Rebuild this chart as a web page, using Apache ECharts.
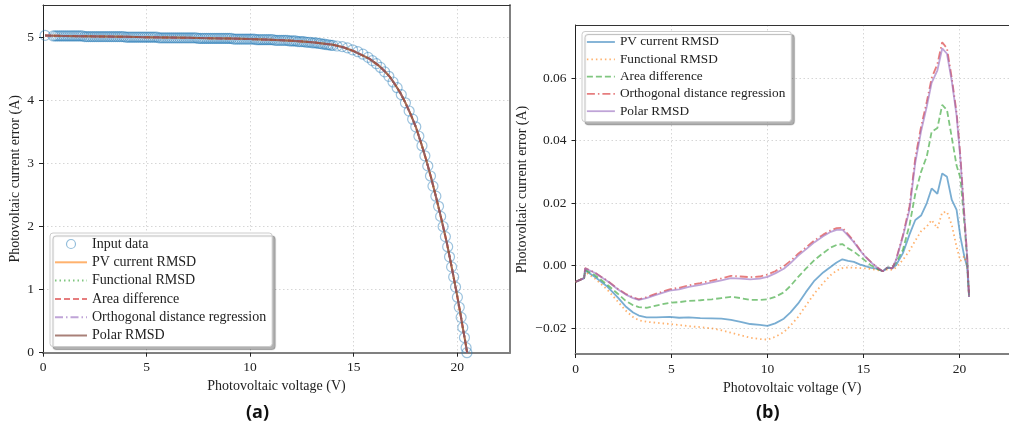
<!DOCTYPE html>
<html>
<head>
<meta charset="utf-8">
<script src="https://cdn.jsdelivr.net/npm/echarts/dist/echarts.min.js"></script>
<style>
html,body{margin:0;padding:0;background:#fff;}
#c{width:1009px;height:434px;}
</style>
</head>
<body>
<div id="c"></div>
<script>
// ---------- Panel (a): I-V curve ----------
const inputData = [
[0.1,5.03],
[0.5,5.02],[0.6,5.02],[0.7,5.02],[0.8,5.02],[0.9,5.02],[1.0,5.02],[1.1,5.02],[1.2,5.02],[1.3,5.02],[1.4,5.02],[1.5,5.02],[1.6,5.02],[1.7,5.02],[1.8,5.02],[1.9,5.02],
[2.0,5.01],[2.1,5.01],[2.2,5.01],[2.3,5.01],[2.4,5.01],[2.5,5.01],[2.6,5.01],[2.7,5.01],[2.8,5.01],[2.9,5.01],[3.0,5.01],[3.1,5.01],[3.2,5.01],[3.3,5.01],[3.4,5.01],[3.5,5.01],[3.6,5.01],[3.7,5.01],[3.8,5.01],[3.9,5.01],
[4.0,5.00],[4.1,5.00],[4.2,5.00],[4.3,5.00],[4.4,5.00],[4.5,5.00],[4.6,5.00],[4.7,5.00],[4.8,5.00],[4.9,5.00],[5.0,5.00],[5.1,5.00],[5.2,5.00],[5.3,5.00],[5.4,5.00],[5.5,5.00],
[5.6,4.99],[5.7,4.99],[5.8,4.99],[5.9,4.99],[6.0,4.99],[6.1,4.99],[6.2,4.99],[6.3,4.99],[6.4,4.99],[6.5,4.99],[6.6,4.99],[6.7,4.99],[6.8,4.99],[6.9,4.99],[7.0,4.99],[7.1,4.99],[7.2,4.99],[7.3,4.99],[7.4,4.99],
[7.5,4.98],[7.6,4.98],[7.7,4.98],[7.8,4.98],[7.9,4.98],[8.0,4.98],[8.1,4.98],[8.2,4.98],[8.3,4.98],[8.4,4.98],[8.5,4.98],[8.6,4.98],[8.7,4.98],[8.8,4.98],[8.9,4.98],[9.0,4.98],[9.1,4.98],
[9.2,4.97],[9.3,4.97],[9.4,4.97],[9.5,4.97],[9.6,4.97],[9.7,4.97],[9.8,4.97],[9.9,4.97],[10.0,4.97],[10.1,4.97],[10.2,4.97],
[10.3,4.96],[10.4,4.96],[10.5,4.96],[10.6,4.96],[10.7,4.96],[10.8,4.96],[10.9,4.96],[11.0,4.96],[11.1,4.96],
[11.2,4.95],[11.3,4.95],[11.4,4.95],[11.5,4.95],[11.6,4.95],[11.7,4.95],[11.8,4.95],
[11.9,4.94],[12.0,4.94],[12.1,4.94],[12.2,4.94],[12.3,4.93],[12.4,4.93],[12.5,4.93],[12.6,4.93],
[12.7,4.92],[12.8,4.92],[12.9,4.92],[13.0,4.91],[13.1,4.91],[13.2,4.91],[13.3,4.90],[13.4,4.90],
[13.5,4.89],[13.6,4.89],[13.7,4.88],[13.8,4.88],[13.9,4.87],[14.0,4.87],
[14.2,4.86],[14.45,4.85],[14.7,4.83],[14.95,4.80],[15.2,4.77],[15.45,4.73],[15.7,4.68],[15.9,4.63],[16.1,4.58],[16.3,4.52],
[16.5,4.45],[16.7,4.38],[16.9,4.29],[17.1,4.20],[17.3,4.09],[17.5,3.96],[17.68,3.83],[17.85,3.70],[18.0,3.58],[18.15,3.43],
[18.3,3.28],[18.44,3.12],[18.58,2.96],[18.71,2.80],[18.83,2.64],[18.97,2.48],[19.1,2.32],[19.2,2.16],[19.32,2.00],[19.43,1.84],
[19.54,1.68],[19.63,1.52],[19.73,1.36],[19.83,1.20],[19.92,1.04],[20.01,0.88],[20.1,0.72],[20.19,0.56],[20.27,0.40],[20.35,0.24],
[20.43,0.08],[20.47,0.0]
];
const fitV = [0.1,1,2,3,4,5,6,7,8,9,10,11,12,13,14,14.5,15,15.5,15.75,16,16.25,16.5,16.75,17,17.25,17.5,17.75,18,18.25,18.5,18.75,19,19.25,19.5,19.75,20,20.15,20.3,20.4,20.48];
const fitI = [5.025,5.02,5.015,5.01,5.005,5.0,4.995,4.99,4.985,4.978,4.97,4.96,4.945,4.92,4.88,4.84,4.78,4.70,4.66,4.60,4.54,4.46,4.37,4.25,4.12,3.96,3.78,3.58,3.33,3.06,2.76,2.44,2.10,1.74,1.33,0.90,0.63,0.34,0.16,0.0];

// ---------- Panel (b): current error ----------
const errV = [0,0.45,0.5,1.0,1.67,2.2,2.6,3.0,3.3,3.7,4.2,4.9,5.4,5.9,6.5,7.1,7.6,8.1,8.6,9.1,9.6,10.0,10.4,10.85,11.2,11.6,12.0,12.45,12.9,13.3,13.6,13.9,14.2,14.5,14.8,15.1,15.4,15.7,16.0,16.25,16.5,16.7,17.05,17.4,17.7,18.0,18.3,18.55,18.85,19.1,19.35,19.6,19.85,20.05,20.25,20.4,20.5];
const errPV = [-0.0052,-0.0040,-0.0016,-0.0036,-0.0068,-0.0102,-0.0130,-0.0150,-0.0160,-0.0166,-0.0166,-0.0164,-0.0167,-0.0166,-0.0168,-0.0169,-0.0170,-0.0174,-0.0180,-0.0187,-0.0190,-0.0193,-0.0185,-0.0170,-0.0150,-0.0121,-0.0085,-0.0048,-0.0022,-0.0004,0.0010,0.0020,0.0015,0.0012,0.0004,-0.0002,-0.0007,-0.0010,-0.0018,-0.0007,-0.0009,0.0002,0.0039,0.0100,0.0146,0.0160,0.0200,0.0247,0.0230,0.0295,0.0284,0.0210,0.0178,0.0092,0.0030,-0.0005,-0.0100];
const errFunc = [-0.0052,-0.0040,-0.0020,-0.0041,-0.0078,-0.0115,-0.0143,-0.0165,-0.0175,-0.0180,-0.0183,-0.0187,-0.0190,-0.0194,-0.0197,-0.0201,-0.0207,-0.0215,-0.0223,-0.0231,-0.0235,-0.0237,-0.0228,-0.0213,-0.0192,-0.0164,-0.0128,-0.0089,-0.0056,-0.0030,-0.0016,-0.0008,-0.0006,-0.0007,-0.0008,-0.0009,-0.0011,-0.0014,-0.0018,-0.0012,-0.0014,-0.0006,0.0018,0.0048,0.0080,0.0110,0.0125,0.0146,0.0119,0.0170,0.0172,0.0130,0.0060,0.0015,0.0030,0.0000,-0.0100];
const errArea = [-0.0052,-0.0040,-0.0013,-0.0030,-0.0062,-0.0090,-0.0112,-0.0127,-0.0133,-0.0135,-0.0128,-0.0119,-0.0117,-0.0113,-0.0111,-0.0108,-0.0104,-0.0100,-0.0104,-0.0110,-0.0110,-0.0108,-0.0100,-0.0086,-0.0065,-0.0036,-0.0010,0.0018,0.0040,0.0058,0.0066,0.0069,0.0055,0.0045,0.0030,0.0015,0.0000,-0.0010,-0.0018,-0.0007,-0.0005,0.0010,0.0050,0.0130,0.0230,0.0300,0.0350,0.0428,0.0440,0.0514,0.0498,0.0410,0.0320,0.0280,0.0140,0.0020,-0.0100];
const errODR = [-0.0052,-0.0040,-0.0008,-0.0022,-0.0049,-0.0074,-0.0090,-0.0102,-0.0108,-0.0101,-0.0090,-0.0076,-0.0071,-0.0063,-0.0056,-0.0048,-0.0041,-0.0033,-0.0035,-0.0037,-0.0035,-0.0029,-0.0018,-0.0002,0.0015,0.0038,0.0058,0.0081,0.0099,0.0113,0.0120,0.0121,0.0100,0.0078,0.0052,0.0029,0.0011,-0.0005,-0.0018,-0.0006,-0.0009,0.0020,0.0096,0.0190,0.0345,0.0445,0.0525,0.0600,0.0645,0.0715,0.0695,0.0600,0.0490,0.0350,0.0165,0.0032,-0.0100];
const errPolar = [-0.0052,-0.0040,-0.0009,-0.0023,-0.0050,-0.0076,-0.0092,-0.0104,-0.0110,-0.0104,-0.0094,-0.0080,-0.0076,-0.0068,-0.0062,-0.0054,-0.0047,-0.0040,-0.0042,-0.0044,-0.0042,-0.0036,-0.0025,-0.0010,0.0008,0.0032,0.0052,0.0075,0.0094,0.0108,0.0114,0.0115,0.0096,0.0075,0.0050,0.0028,0.0010,-0.0006,-0.0018,-0.0006,-0.0009,0.0018,0.0092,0.0180,0.0330,0.0430,0.0510,0.0585,0.0625,0.0695,0.0678,0.0590,0.0480,0.0340,0.0160,0.0030,-0.0100];

const namesA = ['Input data','PV current RMSD','Functional RMSD','Area difference','Orthogonal distance regression','Polar RMSD'];
const namesB = ['PV current RMSD','Functional RMSD','Area difference','Orthogonal distance regression','Polar RMSD'];

const FONT = 'Liberation Serif';
const C = {
  blue:'rgba(31,119,180,0.6)', orange:'rgba(255,127,14,0.6)', green:'rgba(44,160,44,0.6)',
  red:'rgba(214,39,40,0.6)', purple:'rgba(148,103,189,0.6)', brown:'rgba(140,86,75,0.75)'
};
const DOT = [1.5,3], DASH = [6,3], DASHDOT = [8,3,1.5,3];
const NOSYM = {color:'rgba(0,0,0,0)', borderColor:'rgba(0,0,0,0)', borderWidth:0, opacity:0};

const fitData = fitV.map((v,i)=>[v,fitI[i]]);
const pairs = arr => errV.map((v,i)=>[v,arr[i]]);

const styleA = [
  {c:C.orange,t:'solid'},{c:C.green,t:DOT},{c:C.red,t:DASH},{c:C.purple,t:DASHDOT},{c:C.brown,t:'solid'}
];
const styleB = [
  {c:C.blue,t:'solid'},{c:C.orange,t:DOT},{c:C.green,t:DASH},{c:C.red,t:DASHDOT},{c:C.purple,t:'solid'}
];
const dataB = [errPV, errFunc, errArea, errODR, errPolar];

function valueX(grid, max, name){
  return {
    gridIndex:grid, type:'value', min:0, max:max, splitNumber:5, minInterval:5, maxInterval:5,
    position:'bottom', name:name, nameLocation:'middle', nameGap:25,
    nameTextStyle:{fontFamily:FONT,fontSize:14,color:'#222'},
    axisLine:{onZero:false,lineStyle:{color:'#808080',width:2}},
    axisTick:{show:true,inside:false,length:4,lineStyle:{color:'#222'}},
    axisLabel:{fontFamily:FONT,fontSize:13.5,color:'#222',margin:8,showMaxLabel:false},
    splitLine:{show:true,lineStyle:{color:'#d6d6d6',type:[1.5,2.5],width:1}}
  };
}
function frameX(grid,max){
  return {gridIndex:grid,type:'value',min:0,max:max,position:'top',
    axisLine:{onZero:false,lineStyle:{color:'#333',width:1}},axisTick:{show:false},axisLabel:{show:false},splitLine:{show:false}};
}

const series = [];
series.push({
  name:'Input data', type:'scatter', xAxisIndex:0, yAxisIndex:0, data:inputData,
  symbol:'circle', symbolSize:10,
  itemStyle:{color:'rgba(0,0,0,0)', borderColor:'rgba(31,119,180,0.55)', borderWidth:1.2}
});
namesA.slice(1).forEach((n,k)=>{
  series.push({name:n,type:'line',xAxisIndex:0,yAxisIndex:0,data:fitData,symbol:'none',showSymbol:false,
    lineStyle:{color:styleA[k].c,type:styleA[k].t,width:2},itemStyle:{color:styleA[k].c}});
});
namesB.forEach((n,k)=>{
  series.push({name:n,type:'line',xAxisIndex:2,yAxisIndex:2,data:pairs(dataB[k]),symbol:'none',showSymbol:false,
    lineStyle:{color:styleB[k].c,type:styleB[k].t,width:1.8},itemStyle:{color:styleB[k].c}});
});

const legendBase = {
  orient:'vertical', selectedMode:false, backgroundColor:'#fff', borderColor:'#cccccc', borderWidth:1, borderRadius:3,
  shadowColor:'rgba(0,0,0,0.3)', shadowBlur:1, shadowOffsetX:3, shadowOffsetY:3
};

const option = {
  animation:false,
  backgroundColor:'#fff',
  grid:[
    {left:43, top:5, right:499, bottom:81.3, show:false},
    {left:575.5, top:25, right:-10, bottom:80, show:false}
  ],
  xAxis:[
    valueX(0,22.55,'Photovoltaic voltage (V)'), frameX(0,22.55),
    valueX(1,22.58,'Photovoltaic voltage (V)'), frameX(1,22.58)
  ],
  yAxis:[
    {gridIndex:0,type:'value',min:0,max:5.51,splitNumber:5,minInterval:1,maxInterval:1,position:'left',
      name:'Photovoltaic current error (A)',nameLocation:'middle',nameGap:21,
      nameTextStyle:{fontFamily:FONT,fontSize:14,color:'#222'},
      axisLine:{show:true,onZero:false,lineStyle:{color:'#222',width:1}},
      axisTick:{show:true,length:4,lineStyle:{color:'#222'}},
      axisLabel:{fontFamily:FONT,fontSize:13.5,color:'#222',margin:9,showMaxLabel:false},
      splitLine:{show:true,lineStyle:{color:'#d6d6d6',type:[1.5,2.5],width:1}}},
    {gridIndex:0,type:'value',min:0,max:5.51,position:'right',
      axisLine:{show:true,onZero:false,lineStyle:{color:'#808080',width:2}},axisTick:{show:false},axisLabel:{show:false},splitLine:{show:false}},
    {gridIndex:1,type:'value',min:-0.0283,max:0.077,splitNumber:5,minInterval:0.02,maxInterval:0.02,position:'left',
      name:'Photovoltaic current error (A)',nameLocation:'middle',nameGap:46,
      nameTextStyle:{fontFamily:FONT,fontSize:14,color:'#222'},
      axisLine:{show:true,onZero:false,lineStyle:{color:'#222',width:1}},
      axisTick:{show:true,length:4,lineStyle:{color:'#222'}},
      axisLabel:{fontFamily:FONT,fontSize:13.5,color:'#222',margin:9,showMinLabel:false,showMaxLabel:false,
        formatter:v=>(v<-1e-9?'\u2212':'')+Math.abs(v).toFixed(2)},
      splitLine:{show:true,lineStyle:{color:'#d6d6d6',type:[1.5,2.5],width:1}}}
  ],
  legend:[
    Object.assign({}, legendBase, {
      left:50, top:233, itemWidth:32, itemHeight:9, itemGap:4.3, padding:[4,6,4,4],
      textStyle:{fontFamily:FONT,fontSize:14,lineHeight:14,color:'#222'},
      data:[
        {name:'Input data', icon:'circle', itemStyle:{color:'rgba(0,0,0,0)',borderColor:'rgba(31,119,180,0.6)',borderWidth:1.2}}
      ].concat(namesA.slice(1).map((n,k)=>({name:n,itemStyle:NOSYM,lineStyle:{color:styleA[k].c,type:styleA[k].t,width:2}})))
    }),
    Object.assign({}, legendBase, {
      left:582, top:31.5, itemWidth:28, itemHeight:9, itemGap:4.3, padding:[4,6,4,4],
      textStyle:{fontFamily:FONT,fontSize:13.3,lineHeight:13,color:'#222'},
      data:namesB.map((n,k)=>({name:n,itemStyle:NOSYM,lineStyle:{color:styleB[k].c,type:styleB[k].t,width:1.8}}))
    })
  ],
  graphic:[
    {type:'text',left:246,top:404,style:{text:'(a)',font:'bold 18px "Open Sans"',fill:'#111'}},
    {type:'text',left:756,top:404,style:{text:'(b)',font:'bold 18px "Open Sans"',fill:'#111'}}
  ],
  series:series
};

const chart = echarts.init(document.getElementById('c'), null, {renderer:'canvas'});
chart.setOption(option);
</script>
</body>
</html>
